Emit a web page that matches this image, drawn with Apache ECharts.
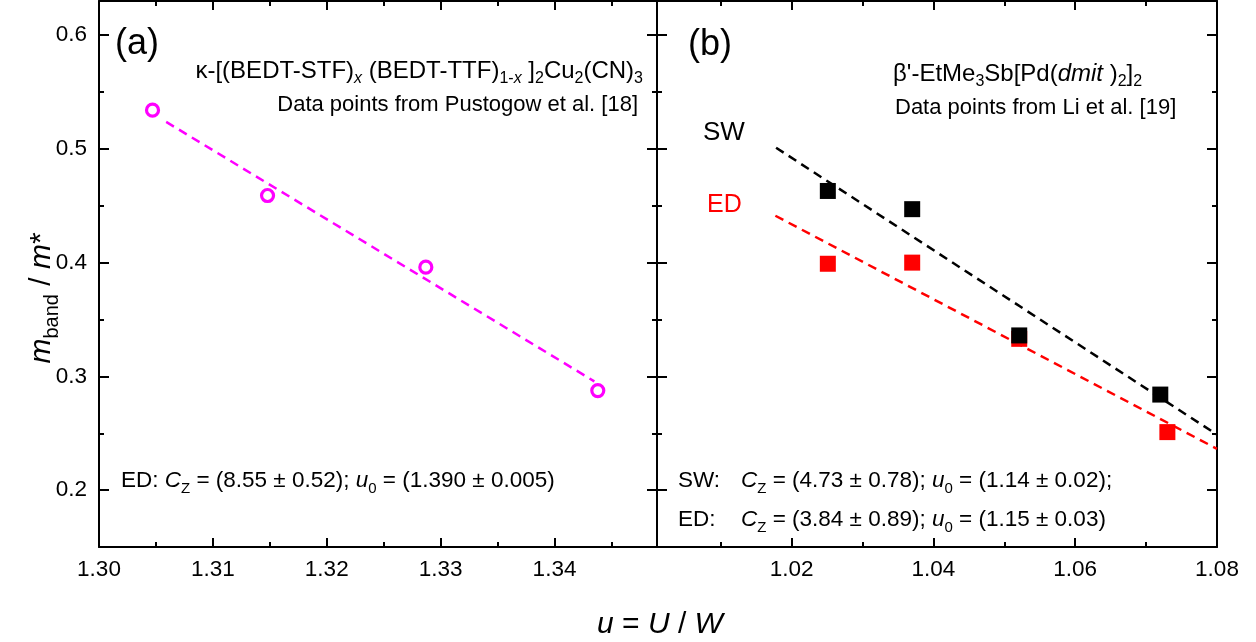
<!DOCTYPE html>
<html>
<head>
<meta charset="utf-8">
<script src="https://cdn.jsdelivr.net/npm/echarts@6/dist/echarts.min.js"></script>
<style>
  html, body { margin: 0; padding: 0; background: #fff; }
  #chart { width: 1256px; height: 642px; }
</style>
</head>
<body>
<div id="chart"></div>
<script>
// Panel (a): kappa-[(BEDT-STF)x(BEDT-TTF)1-x]2Cu2(CN)3, open circles + dashed fit
const uA = [1.3047, 1.3148, 1.3287, 1.3438];
const mA = [0.534, 0.459, 0.396, 0.2875];
const fitA_u = [1.3059, 1.3435];
const fitA_m = [0.5237, 0.2956];

// Panel (b): beta'-EtMe3Sb[Pd(dmit)2]2, SW (black) and ED (red) squares + dashed fits
const uSW = [1.0251, 1.0370, 1.0521, 1.0720];
const mSW = [0.463, 0.447, 0.336, 0.284];
const uED = [1.0251, 1.0370, 1.0521, 1.0730];
const mED = [0.399, 0.400, 0.333, 0.251];
const fitSW_u = [1.0178, 1.0800];
const fitSW_m = [0.501, 0.2488];
const fitED_u = [1.0177, 1.0800];
const fitED_m = [0.4412, 0.2363];

// Axis ranges and tick positions
const yRange = [0.15, 0.63];
const yMajor = [0.2, 0.3, 0.4, 0.5, 0.6];
const yMinor = [0.25, 0.35, 0.45, 0.55];
const xRangeA = [1.30, 1.349];
const xMajorA = [1.30, 1.31, 1.32, 1.33, 1.34];
const xMinorA = [1.305, 1.315, 1.325, 1.335, 1.345];
const xRangeB = [1.001, 1.08];
const xMajorB = [1.02, 1.04, 1.06, 1.08];
const xMinorB = [1.01, 1.03, 1.05, 1.07];

const FONT = '"Liberation Sans", Arial, sans-serif';
const pair = (xs, ys) => xs.map((x, i) => [x, ys[i]]);

function xAx(grid, range, ticks, position, major, labels) {
  return {
    type: 'value', gridIndex: grid, position: position,
    min: range[0], max: range[1],
    axisLine: { show: major, onZero: false, lineStyle: { color: '#000', width: 2 } },
    axisTick: { show: true, inside: true, customValues: ticks, length: major ? 9 : 5,
                lineStyle: { color: '#000', width: 2 } },
    axisLabel: { show: !!labels, customValues: ticks, margin: 11, color: '#000',
                 fontSize: 22.5, fontFamily: FONT, formatter: v => v.toFixed(2) },
    splitLine: { show: false }
  };
}
function yAx(grid, ticks, position, major, labels) {
  return {
    type: 'value', gridIndex: grid, position: position,
    min: yRange[0], max: yRange[1],
    axisLine: { show: major, onZero: false, lineStyle: { color: '#000', width: 2 } },
    axisTick: { show: true, inside: true, customValues: ticks, length: major ? 10 : 5,
                lineStyle: { color: '#000', width: 2 } },
    axisLabel: { show: !!labels, customValues: ticks, margin: 12, color: '#000',
                 fontSize: 22.5, fontFamily: FONT, formatter: v => v.toFixed(1) },
    splitLine: { show: false }
  };
}

const xAxes = [
  xAx(0, xRangeA, xMajorA, 'bottom', true, true),
  xAx(0, xRangeA, xMinorA, 'bottom', false, false),
  xAx(0, xRangeA, xMajorA, 'top', true, false),
  xAx(0, xRangeA, xMinorA, 'top', false, false),
  xAx(1, xRangeB, xMajorB, 'bottom', true, true),
  xAx(1, xRangeB, xMinorB, 'bottom', false, false),
  xAx(1, xRangeB, xMajorB, 'top', true, false),
  xAx(1, xRangeB, xMinorB, 'top', false, false)
];
const yAxes = [
  yAx(0, yMajor, 'left', true, true),
  yAx(0, yMinor, 'left', false, false),
  yAx(0, yMajor, 'right', true, false),
  yAx(0, yMinor, 'right', false, false),
  yAx(1, yMajor, 'left', true, false),
  yAx(1, yMinor, 'left', false, false),
  yAx(1, yMajor, 'right', true, false),
  yAx(1, yMinor, 'right', false, false)
];

const dash = [9, 6];

const series = [
  { type: 'line', xAxisIndex: 0, yAxisIndex: 0, data: pair(fitA_u, fitA_m), showSymbol: false,
    lineStyle: { color: '#ff00ff', width: 2.5, type: dash }, silent: true, z: 2 },
  { type: 'scatter', xAxisIndex: 0, yAxisIndex: 0, data: pair(uA, mA), symbol: 'circle', symbolSize: 12,
    itemStyle: { color: 'rgba(255,255,255,0)', borderColor: '#ff00ff', borderWidth: 3.2, opacity: 1 }, z: 3 },

  { type: 'line', xAxisIndex: 4, yAxisIndex: 4, data: pair(fitSW_u, fitSW_m), showSymbol: false,
    lineStyle: { color: '#000', width: 2.5, type: dash }, silent: true, z: 2 },
  { type: 'line', xAxisIndex: 4, yAxisIndex: 4, data: pair(fitED_u, fitED_m), showSymbol: false,
    lineStyle: { color: '#ff0000', width: 2.5, type: dash }, silent: true, z: 2 },
  { type: 'scatter', xAxisIndex: 4, yAxisIndex: 4, data: pair(uED, mED), symbol: 'rect', symbolSize: 16,
    itemStyle: { color: '#ff0000', opacity: 1 }, z: 3 },
  { type: 'scatter', xAxisIndex: 4, yAxisIndex: 4, data: pair(uSW, mSW), symbol: 'rect', symbolSize: 16,
    itemStyle: { color: '#000', opacity: 1 }, z: 4 }
];

// Rich text styles for formulas and annotations (zrender token styles use fill)
function richSet(size, subSize, drop, color) {
  const lh = Math.round(size * 1.2);
  const c = color || '#000';
  return {
    n:  { fontSize: size, fontFamily: FONT, fill: c, lineHeight: lh },
    i:  { fontSize: size, fontFamily: FONT, fill: c, lineHeight: lh, fontStyle: 'italic' },
    s:  { fontSize: subSize, fontFamily: FONT, fill: c, lineHeight: subSize, padding: [drop, 0, 0, 0] },
    si: { fontSize: subSize, fontFamily: FONT, fill: c, lineHeight: subSize, padding: [drop, 0, 0, 0], fontStyle: 'italic' }
  };
}
const richData = richSet(22, 15, 15);
const richFormula = richSet(24, 16, 16);
const richNote = richSet(22.5, 15, 15);
const richAxis = richSet(30, 20, 20);

function txt(x, y, text, rich, align, extra) {
  return Object.assign({
    type: 'text', x: x, y: y, z: 50,
    style: { text: text, rich: rich, align: align || 'left', verticalAlign: 'middle',
             textAlign: align || 'left', textVerticalAlign: 'middle', fill: '#000',
             font: '22px ' + FONT }
  }, extra || {});
}

const graphics = [
  txt(115, 44, '{n|(a)}', richSet(36, 20, 0)),
  txt(688, 45, '{n|(b)}', richSet(36, 20, 0)),

  txt(643, 71, '{n|\u03BA-[(BEDT-STF)}{si|x}{n| (BEDT-TTF)}{s|1-}{si|x}{n| ]}{s|2}{n|Cu}{s|2}{n|(CN)}{s|3}', richFormula, 'right'),
  txt(638, 105, '{n|Data points from Pustogow et al. [18]}', richData, 'right'),

  txt(893, 74, '{n|\u03B2\'-EtMe}{s|3}{n|Sb[Pd(}{i|dmit}{n| )}{s|2}{n|]}{s|2}', richFormula, 'left'),
  txt(895, 107.5, '{n|Data points from Li et al. [19]}', richData, 'left'),

  txt(703, 133, '{n|SW}', richSet(26, 16, 0)),
  txt(707, 205, '{n|ED}', richSet(25, 16, 0, '#ff0000')),

  txt(121, 481, '{n|ED: }{i|C}{s|Z}{n| = (8.55 \u00B1 0.52); }{i|u}{s|0}{n| = (1.390 \u00B1 0.005)}', richNote, 'left'),
  txt(678, 481, '{n|SW:}', richNote, 'left'),
  txt(741, 481, '{i|C}{s|Z}{n| = (4.73 \u00B1 0.78); }{i|u}{s|0}{n| = (1.14 \u00B1 0.02);}', richNote, 'left'),
  txt(678, 520, '{n|ED:}', richNote, 'left'),
  txt(741, 520, '{i|C}{s|Z}{n| = (3.84 \u00B1 0.89); }{i|u}{s|0}{n| = (1.15 \u00B1 0.03)}', richNote, 'left'),

  // axis titles
  txt(660, 625, '{i|u}{n| = }{i|U}{n| / }{i|W}', richAxis, 'center'),
  txt(42, 298, '{i|m}{s|band}{n| / }{i|m}{n|*}', richAxis, 'center', { rotation: Math.PI / 2 })
];

const chart = echarts.init(document.getElementById('chart'), null, { renderer: 'canvas' });
chart.setOption({
  animation: false,
  backgroundColor: '#fff',
  grid: [
    { left: 99, top: 1, width: 558, height: 546 },
    { left: 657, top: 1, width: 560, height: 546 }
  ],
  xAxis: xAxes,
  yAxis: yAxes,
  series: series,
  graphic: graphics
});
</script>
</body>
</html>
